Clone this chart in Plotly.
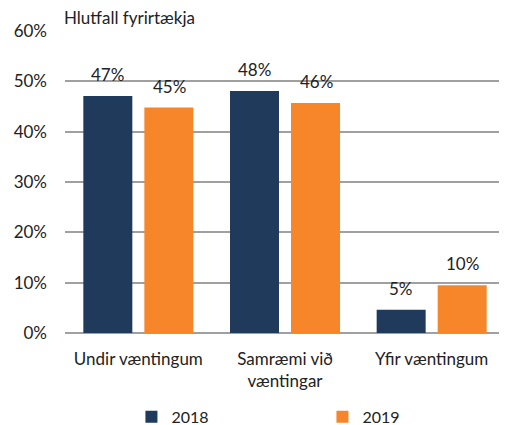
import plotly.graph_objects as go

categories = ["Undir væntingum", "Samræmi við<br>væntingar", "Yfir væntingum"]
series_names = ["2018", "2019"]
values_2018 = [47.1, 48.1, 4.6]
values_2019 = [44.8, 45.7, 9.5]
y_ticks = [0, 10, 20, 30, 40, 50, 60]
y_tick_labels = ["0%", "10%", "20%", "30%", "40%", "50%", "60%"]
title_text = "Hlutfall fyrirtækja"

colors = ["#1F3A5A", "#F7862B"]
FONT = "Lato"
FS = 17

fig = go.Figure()
for name, vals, col in zip(series_names, [values_2018, values_2019], colors):
    fig.add_trace(go.Bar(x=categories, y=vals, name=name, marker=dict(color=col, line=dict(width=0))))

# value labels
offsets = [-31, 31]
for vals, dx in zip([values_2018, values_2019], offsets):
    for c, v in zip(categories, vals):
        fig.add_annotation(x=c, y=v, text=f"{int(v + 0.5)}%", showarrow=False,
                           xshift=dx, yanchor="bottom", yshift=9,
                           font=dict(family=FONT, size=FS, color="#222"))

fig.add_annotation(xref="paper", yref="paper", x=0, y=1, xanchor="left", yanchor="bottom",
                   xshift=-2, yshift=2, borderpad=0, text=title_text, showarrow=False,
                   font=dict(family=FONT, size=FS, color="#222"))

# page body has an 8px default margin, so the figure is sized to fit the window
fig.update_layout(
    width=499, height=417,
    margin=dict(l=57, r=2, t=23, b=92, autoexpand=False),
    paper_bgcolor="white", plot_bgcolor="white",
    barmode="group", bargap=0.168, bargroupgap=0.197,
    font=dict(family=FONT, size=FS, color="#222"),
    showlegend=True,
    legend=dict(orientation="h", x=0.151, xanchor="left", y=-0.278, yanchor="middle",
                entrywidth=146, entrywidthmode="pixels", font=dict(size=16),
                itemwidth=30, tracegroupgap=0),
)
fig.update_yaxes(range=[0, 60], tickvals=y_ticks, ticktext=y_tick_labels,
                 showgrid=True, gridcolor="#A0A0A0", gridwidth=1.5,
                 zeroline=True, zerolinecolor="#A0A0A0", zerolinewidth=1.5,
                 showline=False, ticks="", ticklabelstandoff=17)
fig.update_xaxes(showline=False, ticks="", ticklabelstandoff=14)

fig.write_html("out.html")
